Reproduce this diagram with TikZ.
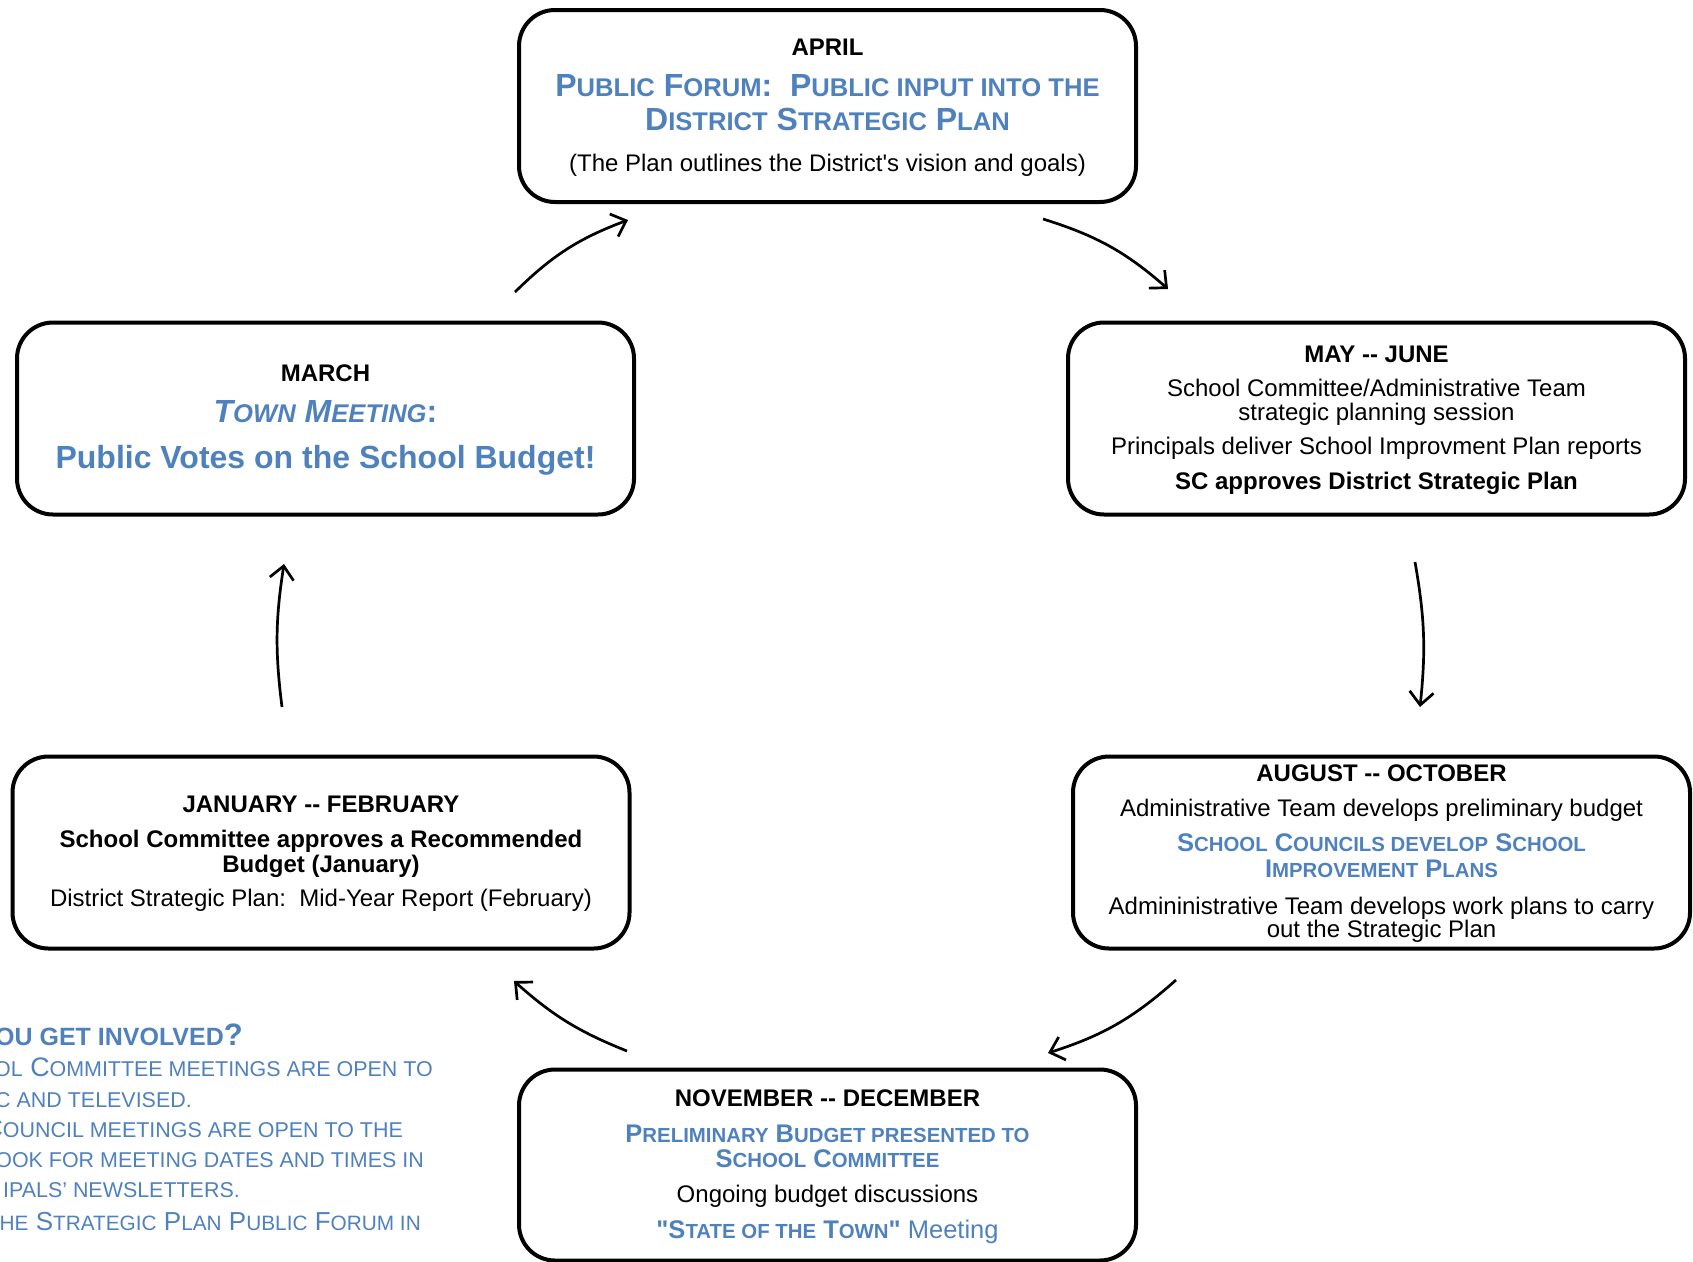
\documentclass[tikz,border=0pt]{standalone}
\usepackage{fontspec}
\setmainfont{Liberation Sans}
\usepackage{graphicx}
\usetikzlibrary{arrows.meta}
\definecolor{myblue}{HTML}{4F81BD}
\newcommand\lc[1]{\scalebox{0.8}{#1}}
\newcommand\dd{-\kern0pt-}
\begin{document}
\begin{tikzpicture}[x=1pt,y=1pt,
  box/.style={draw, line width=4pt, rounded corners=36pt, minimum width=617pt, minimum height=192pt, inner sep=0pt},
  txt/.style={anchor=base, inner sep=0pt, font=\fontsize{24}{28}\selectfont},
  hd/.style={anchor=base, inner sep=0pt, font=\fontsize{24}{28}\selectfont\bfseries},
  ttl/.style={anchor=base, inner sep=0pt, text=myblue, font=\fontsize{32}{36}\selectfont\bfseries},
  sttl/.style={anchor=base, inner sep=0pt, text=myblue, font=\fontsize{25.5}{28}\selectfont\bfseries},
  note/.style={anchor=base east, inner sep=0pt, text=myblue, font=\fontsize{26.8}{30}\selectfont},
  conn/.style={line width=2.7pt, -{Straight Barb[length=13pt,width=24pt]}}]
\useasboundingbox (0,0) rectangle (1693,-1261);
\clip (0,0) rectangle (1693,-1261);

% boxes
\node[box] (apr) at (827.5,-106) {};
\node[box] (mar) at (325.5,-418.5) {};
\node[box] (may) at (1376.5,-418.5) {};
\node[box] (jan) at (321,-852.5) {};
\node[box] (aug) at (1381.5,-852.5) {};
\node[box, minimum height=191pt] (nov) at (827.5,-1165) {};

% April
\node[hd] (apr1) at (827.5,-55.5) {APRIL};
\node[ttl] (apr2) at (827.5,-96.5) {P\lc{UBLIC} F\lc{ORUM}:\ \ P\lc{UBLIC INPUT INTO THE}};
\node[ttl] (apr3) at (827.5,-130) {D\lc{ISTRICT} S\lc{TRATEGIC} P\lc{LAN}};
\node[txt] (apr4) at (827.5,-171.5) {(The Plan outlines the District\textquotesingle s vision and goals)};

% March
\node[hd] (mar1) at (325.5,-381) {MARCH};
\node[ttl] (mar2) at (325.5,-422.5) {{\itshape T\lc{OWN} M\lc{EETING}}:};
\node[ttl] (mar3) at (325.5,-468.5) {Public Votes on the School Budget!};

% May - June
\node[hd] (may1) at (1376.5,-362) {MAY \dd\ JUNE};
\node[txt] (may2) at (1376.5,-396.5) {School Committee/Administrative Team};
\node[txt] (may3) at (1376.5,-420) {strategic planning session};
\node[txt] (may4) at (1376.5,-454) {Principals deliver School Improvment Plan reports};
\node[hd] (may5) at (1376.5,-489.5) {SC approves District Strategic Plan};

% August - October
\node[hd] (aug1) at (1381.5,-781) {AUGUST \dd\ OCTOBER};
\node[txt] (aug2) at (1381.5,-816) {Administrative Team develops preliminary budget};
\node[sttl] (aug3) at (1381.5,-851) {S\lc{CHOOL} C\lc{OUNCILS DEVELOP} S\lc{CHOOL}};
\node[sttl] (aug4) at (1381.5,-877.5) {I\lc{MPROVEMENT} P\lc{LANS}};
\node[txt] (aug5) at (1381.5,-914) {Admininistrative Team develops work plans to carry};
\node[txt] (aug6) at (1381.5,-937.5) {out the Strategic Plan};

% November - December
\node[hd] (nov1) at (827.5,-1106) {NOVEMBER \dd\ DECEMBER};
\node[sttl] (nov2) at (827.5,-1142) {P\lc{RELIMINARY} B\lc{UDGET PRESENTED TO}};
\node[sttl] (nov3) at (827.5,-1167.5) {S\lc{CHOOL} C\lc{OMMITTEE}};
\node[txt] (nov4) at (827.5,-1202.5) {Ongoing budget discussions};
\node[sttl] (nov5) at (827.5,-1238) {\textquotedbl S\lc{TATE OF THE} T\lc{OWN}\textquotedbl{} {\mdseries Meeting}};

% January - February
\node[hd] (jan1) at (321,-812) {JANUARY \dd\ FEBRUARY};
\node[hd] (jan2) at (321,-847) {School Committee approves a Recommended};
\node[hd] (jan3) at (321,-872) {Budget (January)};
\node[txt] (jan4) at (321,-906.5) {District Strategic Plan:\ \ Mid-Year Report (February)};

% involvement note (cut at left edge)
\node[note, font=\fontsize{25}{30}\selectfont\bfseries] (inv0) at (243,-1045) {OU GET INVOLVED{\fontsize{31}{32}\selectfont ?}};
\node[note] (inv1) at (433,-1076) {\lc{OL} C\lc{OMMITTEE MEETINGS ARE OPEN TO}};
\node[note] (inv2) at (192,-1107) {\lc{C AND TELEVISED.}};
\node[note] (inv3) at (403,-1137) {C\lc{OUNCIL MEETINGS ARE OPEN TO THE}};
\node[note] (inv4) at (424,-1167) {\lc{OOK FOR MEETING DATES AND TIMES IN}};
\node[note] (inv5) at (240,-1197) {\lc{IPALS’ NEWSLETTERS.}};
\node[note, font=\fontsize{26}{30}\selectfont] (inv6) at (421,-1230) {\lc{HE} S\lc{TRATEGIC} P\lc{LAN} P\lc{UBLIC} F\lc{ORUM IN}};

% connector end points
\coordinate (c1s) at (515,-292);  \coordinate (c1e) at (628,-220);
\coordinate (c2s) at (1043,-219); \coordinate (c2e) at (1168,-289);
\coordinate (c3s) at (1415,-562); \coordinate (c3e) at (1420,-707);
\coordinate (c4s) at (1176,-980); \coordinate (c4e) at (1048,-1053);
\coordinate (c5s) at (627,-1051); \coordinate (c5e) at (514,-981);
\coordinate (c6s) at (282,-707);  \coordinate (c6e) at (284,-564);

\draw[conn] (c1s) to[bend left=12] (c1e);
\draw[conn] (c2s) to[bend left=12] (c2e);
\draw[conn] (c3s) to[bend left=8] (c3e);
\draw[conn] (c4s) to[bend left=12] (c4e);
\draw[conn] (c5s) to[bend left=10] (c5e);
\draw[conn] (c6s) to[bend left=8] (c6e);
\end{tikzpicture}
\end{document}
